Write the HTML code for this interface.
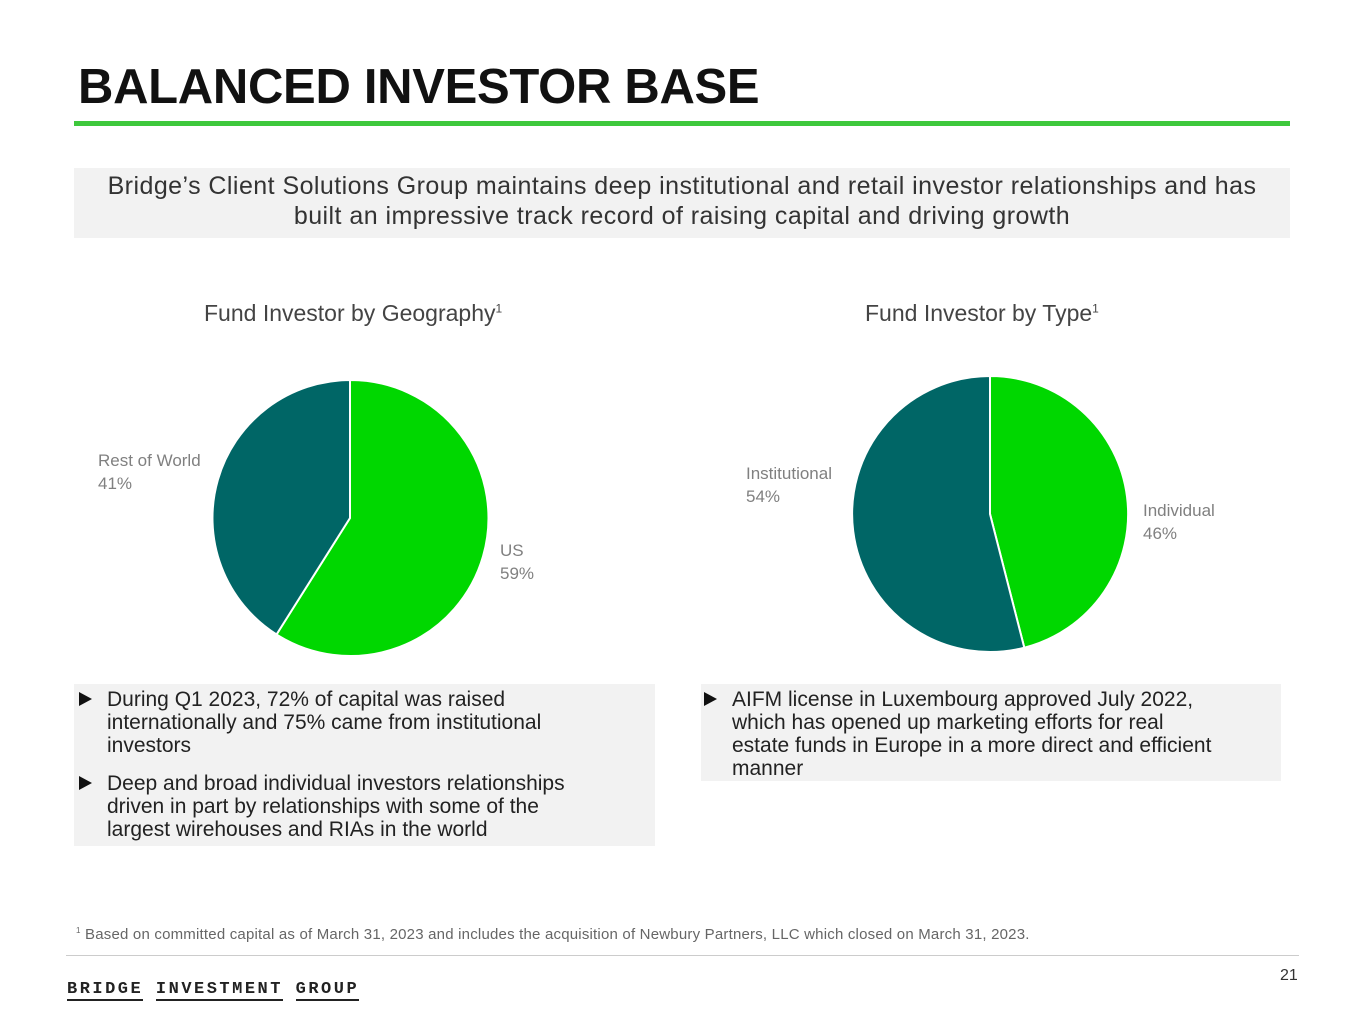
<!DOCTYPE html>
<html><head><meta charset="utf-8"><style>
body{margin:0;width:1365px;height:1024px;background:#fff;font-family:"Liberation Sans",sans-serif;position:relative;overflow:hidden;color:#222}
.a{position:absolute}
.box{background:#f2f2f2}
.bl{position:absolute;font-size:21px;line-height:23px;color:#222}
.bl:before{content:"";position:absolute;left:-28px;top:4px;border-left:13px solid #111;border-top:7px solid transparent;border-bottom:7px solid transparent}
.lab{font-size:17px;color:#808080;line-height:23px}
</style></head><body>
<div class="a" style="left:78px;top:59px;font-size:49px;font-weight:bold;color:#111;letter-spacing:-0.3px">BALANCED INVESTOR BASE</div>
<div class="a" style="left:74px;top:121px;width:1216px;height:5px;background:#3ec83c"></div>
<div class="a box" style="left:74px;top:168px;width:1216px;height:70px;text-align:center;font-size:25px;line-height:30px;color:#333;padding-top:3px;box-sizing:border-box;letter-spacing:0.45px">Bridge’s Client Solutions Group maintains deep institutional and retail investor relationships and has<br>built an impressive track record of raising capital and driving growth</div>
<div class="a" style="left:204px;top:300px;font-size:23px;color:#444">Fund Investor by Geography<sup style="font-size:12px">1</sup></div>
<div class="a" style="left:865px;top:300px;font-size:23px;color:#444">Fund Investor by Type<sup style="font-size:12px">1</sup></div>
<svg class="a" style="left:0;top:0" width="1365" height="1024">
<path d="M350,518 L350,380 A138,138 0 1 1 276.5,634.5 Z" fill="#00d700" stroke="#fff" stroke-width="2"/>
<path d="M350,518 L276.5,634.5 A138,138 0 0 1 350,380 Z" fill="#006666" stroke="#fff" stroke-width="2"/>
<path d="M990,514 L990,376 A138,138 0 0 1 1024.3,647.7 Z" fill="#00d700" stroke="#fff" stroke-width="2"/>
<path d="M990,514 L1024.3,647.7 A138,138 0 1 1 990,376 Z" fill="#006666" stroke="#fff" stroke-width="2"/>
</svg>
<div class="a lab" style="left:98px;top:449px">Rest of World<br>41%</div>
<div class="a lab" style="left:500px;top:539px">US<br>59%</div>
<div class="a lab" style="left:746px;top:462px">Institutional<br>54%</div>
<div class="a lab" style="left:1143px;top:499px">Individual<br>46%</div>
<div class="a box" style="left:74px;top:684px;width:581px;height:162px"></div>
<div class="bl" style="left:107px;top:688px;width:495px">During Q1 2023, 72% of capital was raised internationally and 75% came from institutional investors</div>
<div class="bl" style="left:107px;top:772px;width:495px">Deep and broad individual investors relationships driven in part by relationships with some of the largest wirehouses and RIAs in the world</div>
<div class="a box" style="left:701px;top:684px;width:580px;height:97px"></div>
<div class="bl" style="left:732px;top:688px;white-space:nowrap">AIFM license in Luxembourg approved July 2022,<br>which has opened up marketing efforts for real<br>estate funds in Europe in a more direct and efficient<br>manner</div>
<div class="a" style="left:76px;top:926px;font-size:15px;color:#666;letter-spacing:0.2px"><sup style="font-size:8px">1</sup> Based on committed capital as of March 31, 2023 and includes the acquisition of Newbury Partners, LLC which closed on March 31, 2023.</div>
<div class="a" style="left:66px;top:955px;width:1233px;height:1px;background:#ccc"></div>
<div class="a" style="left:1280px;top:967px;font-size:16px;color:#333">21</div>
<div class="a" style="left:67px;top:980px;font-family:'Liberation Mono',monospace;font-weight:bold;font-size:17px;letter-spacing:2.5px;color:#222"><span style="border-bottom:2px solid #222">BRIDGE</span> <span style="border-bottom:2px solid #222">INVESTMENT</span> <span style="border-bottom:2px solid #222">GROUP</span></div>
</body></html>
